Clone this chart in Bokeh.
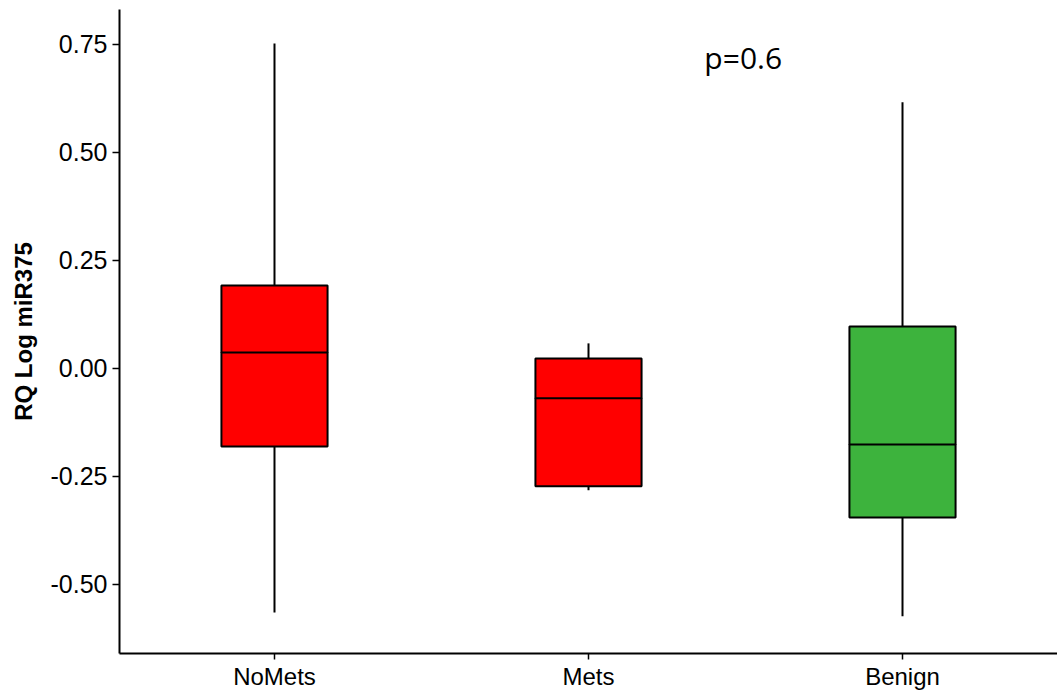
from bokeh.plotting import figure
from bokeh.models import Range1d, FixedTicker, NumeralTickFormatter, ColumnDataSource, Label
from bokeh.embed import file_html
from bokeh.resources import INLINE

categories = ["NoMets", "Mets", "Benign"]
positions = [1, 2, 3]
upper = [0.752, 0.058, 0.616]
q3 = [0.192, 0.023, 0.097]
median = [0.037, -0.069, -0.176]
q1 = [-0.181, -0.273, -0.345]
lower = [-0.565, -0.282, -0.574]
colors = ["#FF0000", "#FF0000", "#3DB33D"]
y_ticks = [-0.5, -0.25, 0.0, 0.25, 0.5, 0.75]
p_text = "p=0.6"
p_pos = (2.369, 0.72)

box_w = 0.338

src = ColumnDataSource(dict(x=positions, upper=upper, q3=q3, median=median,
                            q1=q1, lower=lower, color=colors))

p = figure(width=1057, height=692, output_backend="svg", toolbar_location=None,
           x_range=Range1d(0.5064, 3.4936),
           y_range=Range1d(-0.660, 0.831),
           min_border_left=119, min_border_right=0, min_border_top=9, min_border_bottom=39)

p.outline_line_color = None
p.xgrid.grid_line_color = None
p.ygrid.grid_line_color = None
p.background_fill_color = "white"
p.border_fill_color = "white"

# whiskers
p.segment(x0="x", y0="q3", x1="x", y1="upper", source=src, line_color="black", line_width=2)
p.segment(x0="x", y0="q1", x1="x", y1="lower", source=src, line_color="black", line_width=2)
# boxes
p.vbar(x="x", top="q3", bottom="q1", width=box_w, source=src, fill_color="color",
       line_color="black", line_width=2)
# medians
p.rect(x="x", y="median", width=box_w, height=0.0001, source=src, fill_alpha=0,
       line_color="black", line_width=2)

lab = Label(x=p_pos[0], y=p_pos[1], text=p_text, text_font="Open Sans", text_font_size="30px",
            text_color="black", text_baseline="alphabetic", text_align="left")
p.add_layout(lab)

for ax in (p.xaxis[0], p.yaxis[0]):
    ax.axis_line_color = "black"
    ax.axis_line_width = 2
    ax.major_tick_line_color = "black"
    ax.major_tick_line_width = 1.5
    ax.major_tick_in = 0
    ax.major_tick_out = 7
    ax.minor_tick_line_color = None
    ax.major_label_text_font = "Liberation Sans"
    ax.major_label_text_font_size = "24px"
    ax.major_label_text_color = "black"

p.xaxis.ticker = FixedTicker(ticks=positions)
p.xaxis.major_label_overrides = {pos: c for pos, c in zip(positions, categories)}
p.xaxis.major_label_standoff = 3
p.xaxis.major_tick_out = 6

p.yaxis.ticker = FixedTicker(ticks=y_ticks)
p.yaxis.formatter = NumeralTickFormatter(format="0.00")
p.yaxis.major_label_text_font_size = "25px"
p.yaxis.major_label_standoff = 5
p.yaxis.axis_label = "RQ Log miR375"
p.yaxis.axis_label_text_font = "Liberation Sans"
p.yaxis.axis_label_text_font_style = "bold"
p.yaxis.axis_label_text_font_size = "24px"
p.yaxis.axis_label_text_color = "black"
p.yaxis.axis_label_standoff = 11

open("out.html", "w").write(file_html(p, INLINE))
